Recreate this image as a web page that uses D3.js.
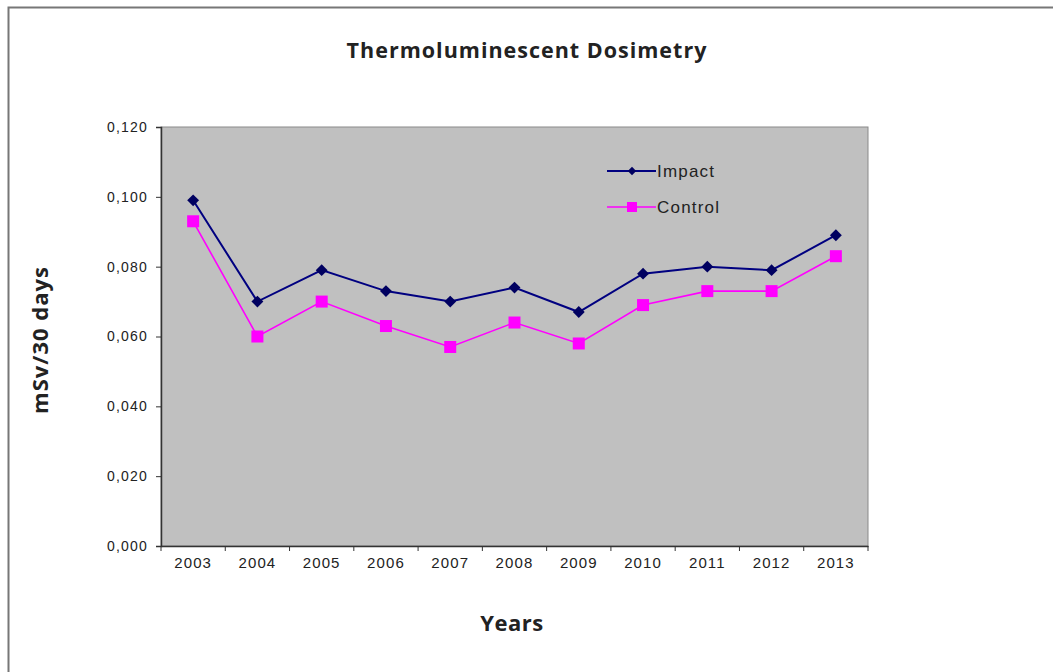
<!DOCTYPE html>
<html>
<head>
<meta charset="utf-8">
<script src="https://cdn.jsdelivr.net/npm/d3@7"></script>
<style>
  body { margin: 0; background: #fff; }
  svg text { fill: #222; }
</style>
</head>
<body>
<div id="chart"></div>
<script>
// data
const years = ["2003", "2004", "2005", "2006", "2007", "2008", "2009", "2010", "2011", "2012", "2013"];
const impact = [0.099, 0.070, 0.079, 0.073, 0.070, 0.074, 0.067, 0.078, 0.080, 0.079, 0.089];
const control = [0.093, 0.060, 0.070, 0.063, 0.057, 0.064, 0.058, 0.069, 0.073, 0.073, 0.083];
const yTicks = [0, 0.02, 0.04, 0.06, 0.08, 0.10, 0.12];

const W = 1053, H = 672;
const margin = { top: 127, right: 185, bottom: 126, left: 161 };

const svg = d3.select("#chart").append("svg")
  .attr("width", W).attr("height", H);

// outer frame (left + top edges visible)
svg.append("path")
  .attr("d", `M8.5,${H} V7.5 H${W}`)
  .attr("fill", "none").attr("stroke", "#777").attr("stroke-width", 2);

const x = d3.scaleBand().domain(years)
  .range([margin.left, W - margin.right]);
const y = d3.scaleLinear().domain([0, 0.12])
  .range([H - margin.bottom, margin.top]);

// plot area
svg.append("rect")
  .attr("x", margin.left).attr("y", margin.top)
  .attr("width", x.range()[1] - margin.left)
  .attr("height", y(0) - margin.top)
  .attr("fill", "#c0c0c0").attr("stroke", "#8a8a8a").attr("stroke-width", 1);

const fmt = d => d3.format(".3f")(d).replace(".", ",");
const tickFont = "Liberation Sans, Arial, sans-serif";

// y axis
const gy = svg.append("g")
  .attr("transform", `translate(${margin.left},0)`)
  .call(d3.axisLeft(y).tickValues(yTicks).tickFormat(fmt).tickSize(5).tickPadding(8));
gy.select(".domain").attr("stroke", "#333").attr("stroke-width", 1.5);
gy.selectAll(".tick line").attr("stroke", "#333");
gy.selectAll(".tick text")
  .attr("font-family", tickFont)
  .attr("font-size", 14).attr("letter-spacing", "1.2px").attr("fill", "#333");

// x axis: ticks on band boundaries
const gx = svg.append("g")
  .attr("transform", `translate(0,${y(0)})`)
  .call(d3.axisBottom(x).tickSize(0).tickPadding(11));
gx.select(".domain").attr("stroke", "#333").attr("stroke-width", 1.5);
gx.selectAll(".tick text")
  .attr("font-family", tickFont)
  .attr("font-size", 15).attr("letter-spacing", "1.1px").attr("fill", "#333");
gx.selectAll(".bnd")
  .data(years.map(d => x(d)).concat([x.range()[1]]))
  .enter().append("line")
  .attr("x1", d => d).attr("x2", d => d)
  .attr("y1", 0).attr("y2", 5)
  .attr("stroke", "#333");

const cx = d => x(d) + x.bandwidth() / 2;
const line = d3.line().x((d, i) => cx(years[i])).y(d => y(d));

// Control series
svg.append("path").datum(control)
  .attr("d", line).attr("fill", "none")
  .attr("stroke", "#ff00ff").attr("stroke-width", 1.6);
svg.selectAll(".sq").data(control).enter().append("rect")
  .attr("x", (d, i) => cx(years[i]) - 6).attr("y", d => y(d) - 6)
  .attr("width", 12).attr("height", 12).attr("fill", "#ff00ff");

// Impact series
const diamond = d3.symbol().type(d3.symbolDiamond2).size(90);
svg.append("path").datum(impact)
  .attr("d", line).attr("fill", "none")
  .attr("stroke", "#000080").attr("stroke-width", 2);
svg.selectAll(".dm").data(impact).enter().append("path")
  .attr("transform", (d, i) => `translate(${cx(years[i])},${y(d)})`)
  .attr("d", diamond).attr("fill", "#000060");

// legend
const lg = svg.append("g").attr("font-family", tickFont)
  .attr("font-size", 17);
const leg = [
  { name: "Impact", color: "#000080", yy: 171, mark: "diamond" },
  { name: "Control", color: "#ff00ff", yy: 207, mark: "square" }
];
leg.forEach(s => {
  lg.append("line").attr("x1", 607).attr("x2", 656)
    .attr("y1", s.yy).attr("y2", s.yy)
    .attr("stroke", s.color).attr("stroke-width", s.mark === "diamond" ? 2 : 1.6);
  if (s.mark === "diamond")
    lg.append("path").attr("transform", `translate(632,${s.yy})`)
      .attr("d", d3.symbol().type(d3.symbolDiamond2).size(45)).attr("fill", "#000060");
  else
    lg.append("rect").attr("x", 627).attr("y", s.yy - 5)
      .attr("width", 10).attr("height", 10).attr("fill", s.color);
  lg.append("text").attr("x", 657).attr("y", s.yy + 6)
    .attr("letter-spacing", "1.2px").attr("fill", "#222").text(s.name);
});

// titles
const titleFont = "Open Sans, sans-serif";
svg.append("text")
  .attr("x", 527).attr("y", 58).attr("text-anchor", "middle")
  .attr("font-family", titleFont).attr("font-weight", "bold")
  .attr("font-size", 21.5).attr("letter-spacing", "1px").attr("fill", "#111")
  .text("Thermoluminescent Dosimetry");

svg.append("text")
  .attr("transform", "translate(48,340) rotate(-90)")
  .attr("text-anchor", "middle")
  .attr("font-family", titleFont).attr("font-weight", "bold")
  .attr("font-size", 22).attr("letter-spacing", "1px").attr("fill", "#111")
  .text("mSv/30 days");

svg.append("text")
  .attr("x", 512).attr("y", 631).attr("text-anchor", "middle")
  .attr("font-family", titleFont).attr("font-weight", "bold")
  .attr("font-size", 22).attr("letter-spacing", "0.5px").attr("fill", "#111")
  .text("Years");
</script>
</body>
</html>
